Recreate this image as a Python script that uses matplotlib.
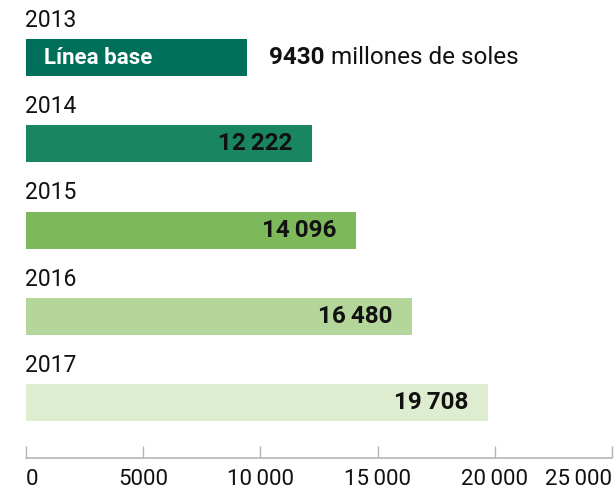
import matplotlib.pyplot as plt

# data
years = ["2013", "2014", "2015", "2016", "2017"]
values = [9430, 12222, 14096, 16480, 19708]
value_labels = ["9430", "12\u2009222", "14\u2009096", "16\u2009480", "19\u2009708"]
bar_colors = ["#006f5a", "#1a8561", "#7db85a", "#b5d69a", "#deeccf"]
tick_values = [0, 5000, 10000, 15000, 20000, 25000]
tick_labels = ["0", "5000", "10\u2009000", "15\u2009000", "20\u2009000", "25\u2009000"]

plt.rcParams["font.family"] = ["Roboto", "DejaVu Sans"]

fig = plt.figure(figsize=(6.16, 4.9), dpi=100)
ax = fig.add_axes([26 / 616, 1 - 458 / 490, 586 / 616, 458 / 490])

# row spacing ~86 px, first bar centred ~57 px from the top
step = 86.3
pos = list(range(len(years)))
ax.barh(pos, values, height=37 / step, color=bar_colors)
ax.set_xlim(0, 25000)
ax.set_ylim((458 - 57.5) / step, -57.5 / step)

for i, (yr, v, lab) in enumerate(zip(years, values, value_labels)):
    ax.text(-50, i - 0.43, yr, ha="left", va="center", fontsize=16.5, color="#111111")
    if i == 0:
        ax.text(780, i, "Línea base", ha="left", va="center", fontsize=16,
                fontweight="bold", color="white")
        bold = ax.annotate(lab, (v, i), xytext=(22, 0), textcoords="offset pixels",
                           ha="left", va="center", fontsize=17.5, fontweight="bold",
                           color="#111111")
        # unit text placed right after the bold number
        ax.annotate("millones de soles", xy=(1, 0.5), xycoords=bold,
                    xytext=(6, 0), textcoords="offset pixels",
                    ha="left", va="center", fontsize=17.5, color="#111111")
    else:
        ax.annotate(lab, (v, i), xytext=(-20, 0), textcoords="offset pixels",
                    ha="right", va="center", fontsize=17.5, fontweight="bold",
                    color="#111111")

for s in ["top", "right", "left"]:
    ax.spines[s].set_visible(False)
ax.spines["bottom"].set_color("#b4b4bc")
ax.spines["bottom"].set_linewidth(1.2)
ax.set_yticks([])
ax.set_xticks(tick_values)
ax.set_xticklabels(tick_labels)
ax.tick_params(axis="x", direction="in", length=9, width=1, color="#b4b4bc",
               labelsize=16, labelcolor="#111111", pad=-4)
for t in ax.get_xticklabels():
    t.set_y(-0.037)
labels = ax.get_xticklabels()
labels[0].set_ha("left")
labels[-1].set_ha("right")

fig.savefig("out.png", dpi=100)
